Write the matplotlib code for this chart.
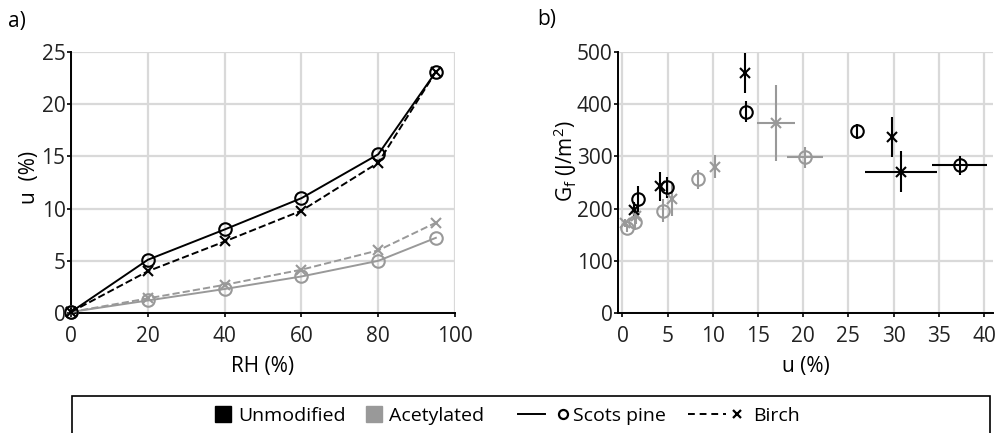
import matplotlib
matplotlib.use('Agg')
import matplotlib.pyplot as plt
from matplotlib.patches import Rectangle
from matplotlib.lines import Line2D

plt.rcParams['font.family'] = ['Open Sans', 'DejaVu Sans']
plt.rcParams['mathtext.fontset'] = 'custom'
plt.rcParams['mathtext.rm'] = 'Open Sans'
plt.rcParams['mathtext.it'] = 'Open Sans'

# dados - painel a) (sorcao)
rh = [0, 20, 40, 60, 80, 95]
u_pine_unmod = [0.1, 5.1, 8.0, 11.0, 15.2, 23.1]
u_birch_unmod = [0.1, 4.0, 6.85, 9.8, 14.4, 23.1]
u_pine_acet = [0.1, 1.2, 2.3, 3.5, 5.0, 7.2]
u_birch_acet = [0.1, 1.4, 2.7, 4.15, 6.0, 8.65]

# dados - painel b) (energia de fratura)
pine_unmod_u = [1.7, 4.9, 13.7, 26.0, 37.3]
pine_unmod_g = [218, 241, 386, 348, 283]
pine_unmod_uerr = [0, 0, 0, 0, 3.0]
pine_unmod_gerr = [25, 20, 20, 15, 18]

birch_unmod_u = [1.3, 4.1, 13.6, 29.8, 30.8]
birch_unmod_g = [198, 243, 460, 337, 271]
birch_unmod_uerr = [0, 0, 0, 0, 4.0]
birch_unmod_gerr = [15, 28, 38, 38, 40]

pine_acet_u = [0.5, 1.4, 4.5, 8.3, 20.2]
pine_acet_g = [163, 174, 196, 256, 298]
pine_acet_uerr = [0, 0, 0, 0, 2.0]
pine_acet_gerr = [8, 15, 22, 18, 20]

birch_acet_u = [0.3, 1.5, 5.5, 10.2, 17.0]
birch_acet_g = [172, 185, 218, 280, 364]
birch_acet_uerr = [0, 0, 0, 0, 2.1]
birch_acet_gerr = [8, 15, 32, 22, 72]

preto = 'black'
cinza = '#999999'
grade = '#d9d9d9'
fs = 15

W, H = 999, 433
fig = plt.figure(figsize=(W / 100, H / 100), dpi=100)
ax1 = fig.add_axes([0.0711, 0.2771, 0.3844, 0.6028])
ax2 = fig.add_axes([0.6186, 0.2771, 0.3754, 0.6028])

for ax in (ax1, ax2):
    ax.grid(True, color=grade, linewidth=1.6, zorder=0)
    ax.set_axisbelow(True)
    for s in ['top', 'right']:
        ax.spines[s].set_visible(False)
    for s in ['left', 'bottom']:
        ax.spines[s].set_linewidth(1.4)
    ax.tick_params(direction='out', length=3, width=1.2, labelsize=fs, labelcolor='#222222')
    ax.tick_params(axis='x', pad=6)
    ax.tick_params(axis='y', pad=1)

# painel a
ax1.plot(rh, u_pine_unmod, '-', color=preto, lw=1.4, marker='o', ms=9, mfc='none', mew=1.5, clip_on=False, zorder=4)
ax1.plot(rh, u_birch_unmod, '--', color=preto, lw=1.4, marker='x', ms=7, mew=1.5, clip_on=False, zorder=4)
ax1.plot(rh, u_pine_acet, '-', color=cinza, lw=1.4, marker='o', ms=9, mfc='none', mew=1.5, clip_on=False, zorder=3)
ax1.plot(rh, u_birch_acet, '--', color=cinza, lw=1.4, marker='x', ms=7, mew=1.5, clip_on=False, zorder=3)
ax1.set_xlim(0, 100)
ax1.set_ylim(0, 25)
ax1.set_xticks([0, 20, 40, 60, 80, 100])
ax1.set_yticks([0, 5, 10, 15, 20, 25])
ax1.set_xlabel('RH (%)', fontsize=fs, labelpad=7)
ax1.set_ylabel('u  (%)', fontsize=fs)
ax1.yaxis.set_label_coords(-0.082, 0.52)

# painel b
ekw = dict(linestyle='none', elinewidth=1.5, capsize=0, mew=1.5, zorder=4)
ax2.errorbar(pine_acet_u, pine_acet_g, xerr=pine_acet_uerr, yerr=pine_acet_gerr, marker='o', ms=9, mfc='none', color=cinza, mec=cinza, **ekw)
ax2.errorbar(birch_acet_u, birch_acet_g, xerr=birch_acet_uerr, yerr=birch_acet_gerr, marker='x', ms=7, color=cinza, mec=cinza, **ekw)
ax2.errorbar(pine_unmod_u, pine_unmod_g, xerr=pine_unmod_uerr, yerr=pine_unmod_gerr, marker='o', ms=9, mfc='none', color=preto, mec=preto, **ekw)
ax2.errorbar(birch_unmod_u, birch_unmod_g, xerr=birch_unmod_uerr, yerr=birch_unmod_gerr, marker='x', ms=7, color=preto, mec=preto, **ekw)
ax2.set_xlim(-0.5, 41)
ax2.set_ylim(0, 500)
ax2.set_xticks(range(0, 45, 5))
ax2.set_yticks(range(0, 600, 100))
ax2.set_xlabel('u (%)', fontsize=fs, labelpad=7)
ax2.set_ylabel(r'G$_\mathrm{f}$ (J/m$^2$)', fontsize=fs)
ax2.yaxis.set_label_coords(-0.105, 0.58)

fig.text(0.008, 0.95, 'a)', fontsize=fs, va='center')
fig.text(0.538, 0.955, 'b)', fontsize=fs, va='center')

# legenda (desenhada a mao, em pixels da figura)
fig.patches.append(Rectangle((72 / W, -0.1), 918 / W, 0.1 + 1 - 396 / H, transform=fig.transFigure,
                             fill=False, edgecolor='black', lw=1.2, clip_on=False))
yl = 1 - 414 / H
lado = 16
for x0, cor in [(215, preto), (366, cinza)]:
    fig.patches.append(Rectangle((x0 / W, yl - lado / 2 / H), lado / W, lado / H,
                                 transform=fig.transFigure, facecolor=cor, edgecolor=cor))
fig.lines.append(Line2D([518 / W, 545 / W], [yl, yl], transform=fig.transFigure, color=preto, lw=1.4))
fig.lines.append(Line2D([563 / W], [yl], transform=fig.transFigure, color=preto, marker='o', ms=6.5, mfc='none', mew=1.6))
fig.lines.append(Line2D([688 / W, 726 / W], [yl, yl], transform=fig.transFigure, color=preto, lw=1.4, ls=(0, (3.5, 2.5))))
fig.lines.append(Line2D([737 / W], [yl], transform=fig.transFigure, color=preto, marker='x', ms=5.5, mew=1.6))
for x0, txt in [(238, 'Unmodified'), (389, 'Acetylated'), (573, 'Scots pine'), (753, 'Birch')]:
    fig.text(x0 / W, yl - 2 / H, txt, fontsize=14, va='center', ha='left')

fig.savefig('out.png', dpi=100)
